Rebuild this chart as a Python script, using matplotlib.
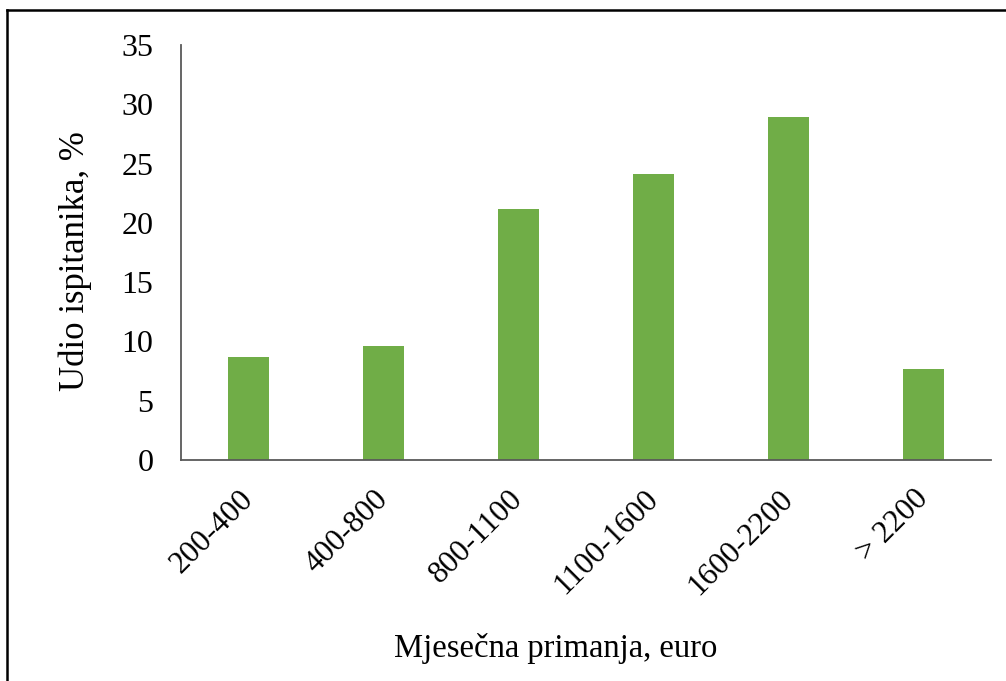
import matplotlib
matplotlib.use("Agg")
import matplotlib.pyplot as plt
from matplotlib.lines import Line2D

categories = ["200-400", "400-800", "800-1100", "1100-1600", "1600-2200", "> 2200"]
values = [8.7, 9.6, 21.2, 24.1, 28.9, 7.7]
y_ticks = [0, 5, 10, 15, 20, 25, 30, 35]

plt.rcParams['font.family'] = ['Liberation Serif', 'DejaVu Serif']

fig = plt.figure(figsize=(10.06, 6.81), dpi=100)
ax = fig.add_axes([0.18, 0.3245, 0.805, 0.6095])

x = range(len(categories))
ax.bar(x, values, width=0.31, color='#70AD47', zorder=2)

ax.set_xlim(-0.5, len(categories) - 0.5)
ax.set_ylim(0, 35)
ax.set_yticks(y_ticks)
ax.set_yticklabels([str(t) for t in y_ticks], fontsize=23)
ax.set_xticks(list(x))
ax.set_xticklabels(categories, fontsize=22.5, rotation=45, ha='right',
                   va='center', rotation_mode='anchor')
ax.tick_params(axis='both', length=0)
ax.tick_params(axis='y', pad=20)
ax.tick_params(axis='x', pad=25)

for s in ['top', 'right']:
    ax.spines[s].set_visible(False)
for s in ['left', 'bottom']:
    ax.spines[s].set_color('#595959')
    ax.spines[s].set_linewidth(1.3)

ax.set_ylabel("Udio ispitanika, %", fontsize=25)
ax.yaxis.set_label_coords(-0.11, 0.48, transform=ax.transAxes)
fig.text(0.552, 0.048, "Mjesečna primanja, euro", fontsize=23.5, ha='center', va='center')

# frame around the chart (top and left edges visible)
fig.add_artist(Line2D([0.007, 1.0], [0.986, 0.986], color='black', lw=1.8,
                      transform=fig.transFigure))
fig.add_artist(Line2D([0.007, 0.007], [0.0, 0.986], color='black', lw=1.8,
                      transform=fig.transFigure))

fig.savefig("out.png", dpi=100)
